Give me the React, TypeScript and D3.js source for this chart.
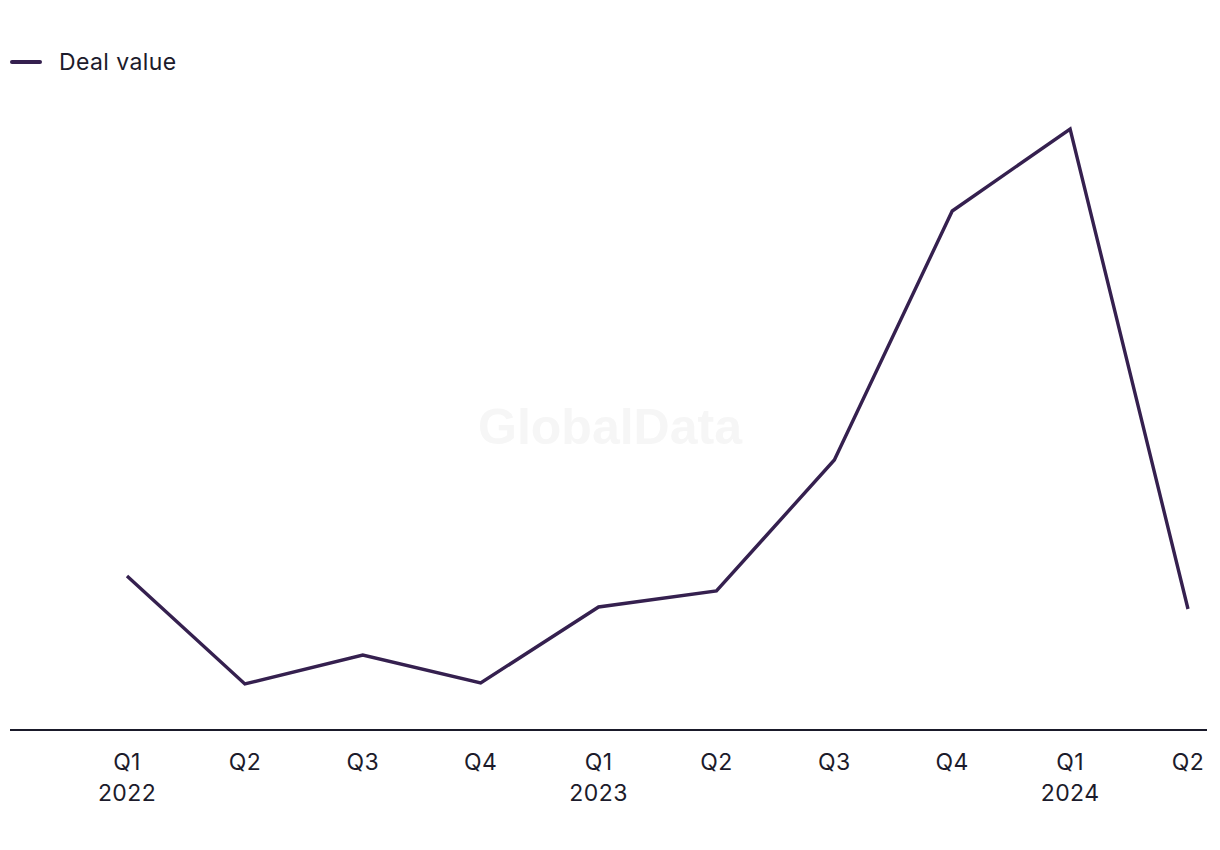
import React from "react";
import * as d3 from "d3";

const quarters = ["Q1", "Q2", "Q3", "Q4", "Q1", "Q2", "Q3", "Q4", "Q1", "Q2"];
const years = ["2022", "", "", "", "2023", "", "", "", "2024", ""];
const dealValue = [154, 46, 75, 47, 123, 139, 270, 519, 601, 121];
const seriesName = "Deal value";

const W = 1220;
const H = 850;

export default function App() {
  const keys = quarters.map((q, i) => `${q}-${i}`);
  const x = d3.scalePoint<string>().domain(keys).range([127, 1188]);
  const y = d3.scaleLinear().domain([0, 601]).range([730, 129]);
  const line = d3
    .line<number>()
    .x((_, i) => x(keys[i]) as number)
    .y((d) => y(d));
  const font = "Inter, 'Liberation Sans', sans-serif";
  return (
    <svg
      width={W}
      height={H}
      style={{ position: "absolute", left: 0, top: 0, background: "#fff" }}
    >
      <text
        x={610}
        y={444}
        textAnchor="middle"
        fontFamily="'Liberation Sans', Arial, sans-serif"
        fontWeight="bold"
        fontSize={50}
        fill="#f6f6f6"
      >
        GlobalData
      </text>
      <line x1={12} x2={40} y1={62} y2={62} stroke="#35204f" strokeWidth={4} strokeLinecap="round" />
      <text x={59} y={70} fontFamily={font} fontSize={23} letterSpacing={0.4} fill="#1c1b2b">
        {seriesName}
      </text>
      <path d={line(dealValue) || ""} fill="none" stroke="#35204f" strokeWidth={3.4} />
      <line x1={10} x2={1207} y1={y(0)} y2={y(0)} stroke="#1a1a2a" strokeWidth={2} />
      {keys.map((k, i) => (
        <g key={k} transform={`translate(${x(k)},0)`}>
          <text y={770} textAnchor="middle" fontFamily={font} fontSize={23} letterSpacing={0.4} fill="#1c1b2b">
            {quarters[i]}
          </text>
          {years[i] && (
            <text y={801} textAnchor="middle" fontFamily={font} fontSize={23} letterSpacing={0.4} fill="#1c1b2b">
              {years[i]}
            </text>
          )}
        </g>
      ))}
    </svg>
  );
}
